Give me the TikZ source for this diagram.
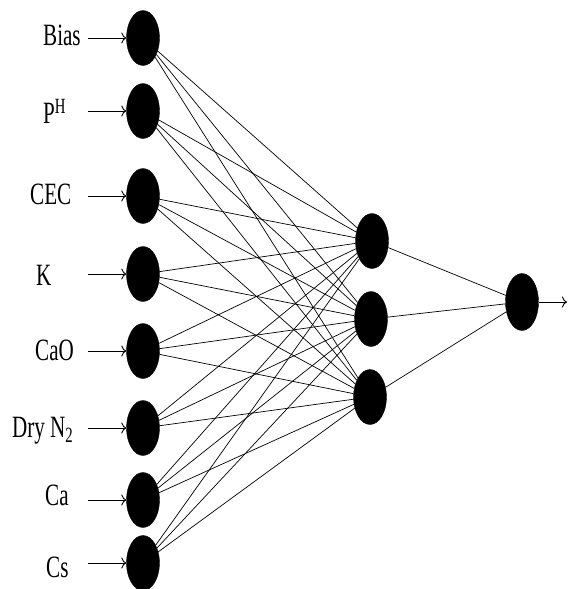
\documentclass[tikz,border=0pt]{standalone}
\usepackage{fontspec}
\setmainfont[FakeStretch=0.68]{Liberation Serif}
\usetikzlibrary{shapes.geometric,arrows.meta}
\begin{document}
\begin{tikzpicture}[x=1pt,y=-1pt,
  neuron/.style={ellipse,fill=black,draw=black,minimum width=33pt,minimum height=55pt,inner sep=0pt},
  lab/.style={anchor=base west,inner sep=0pt,font=\fontsize{31}{32}\selectfont},
  conn/.style={line width=0.7pt},
  inarrow/.style={line width=0.9pt,-{To[length=5pt,width=11pt]}}]
\useasboundingbox[fill=white] (0,0) rectangle (568,589);
% input neurons
\node[neuron] (i1) at (143,38) {};
\node[neuron] (i2) at (143,111) {};
\node[neuron] (i3) at (143,196) {};
\node[neuron] (i4) at (143,274) {};
\node[neuron] (i5) at (143,351) {};
\node[neuron] (i6) at (143,428) {};
\node[neuron] (i7) at (143,500) {};
\node[neuron] (i8) at (143,563) {};
% hidden neurons
\node[neuron] (h1) at (372,241) {};
\node[neuron] (h2) at (371,319) {};
\node[neuron] (h3) at (370,397) {};
% output neuron
\node[neuron,minimum height=57pt] (o) at (522,302) {};
% labels
\node[lab] (l1) at (43,45) {Bias};
\node[lab] (l2) at (43,123) {P\textsuperscript{H}};
\node[lab] (l3) at (30,204) {CEC};
\node[lab] (l4) at (36,285) {K};
\node[lab] (l5) at (35,360) {CaO};
\node[lab] (l6) at (12,437) {Dry N\textsubscript{2}};
\node[lab] (l7) at (45,505) {Ca};
\node[lab] (l8) at (46,577) {Cs};
% input arrows
\foreach \i/\y in {1/38,2/111,3/196,4/274,5/351,6/428,7/500,8/563}{
  \coordinate (s\i) at (88,\y);
  \draw[inarrow] (s\i) -- (i\i.west);
}
% input -> hidden connections
\foreach \i in {1,...,8}{
  \foreach \h in {1,2,3}{
    \draw[conn] (i\i) -- (h\h);
  }
}
% hidden -> output
\foreach \h in {1,2,3}{
  \draw[conn] (h\h) -- (o);
}
\coordinate (out) at (567,302);
\draw[inarrow] (o.east) -- (out);
\end{tikzpicture}
\end{document}
